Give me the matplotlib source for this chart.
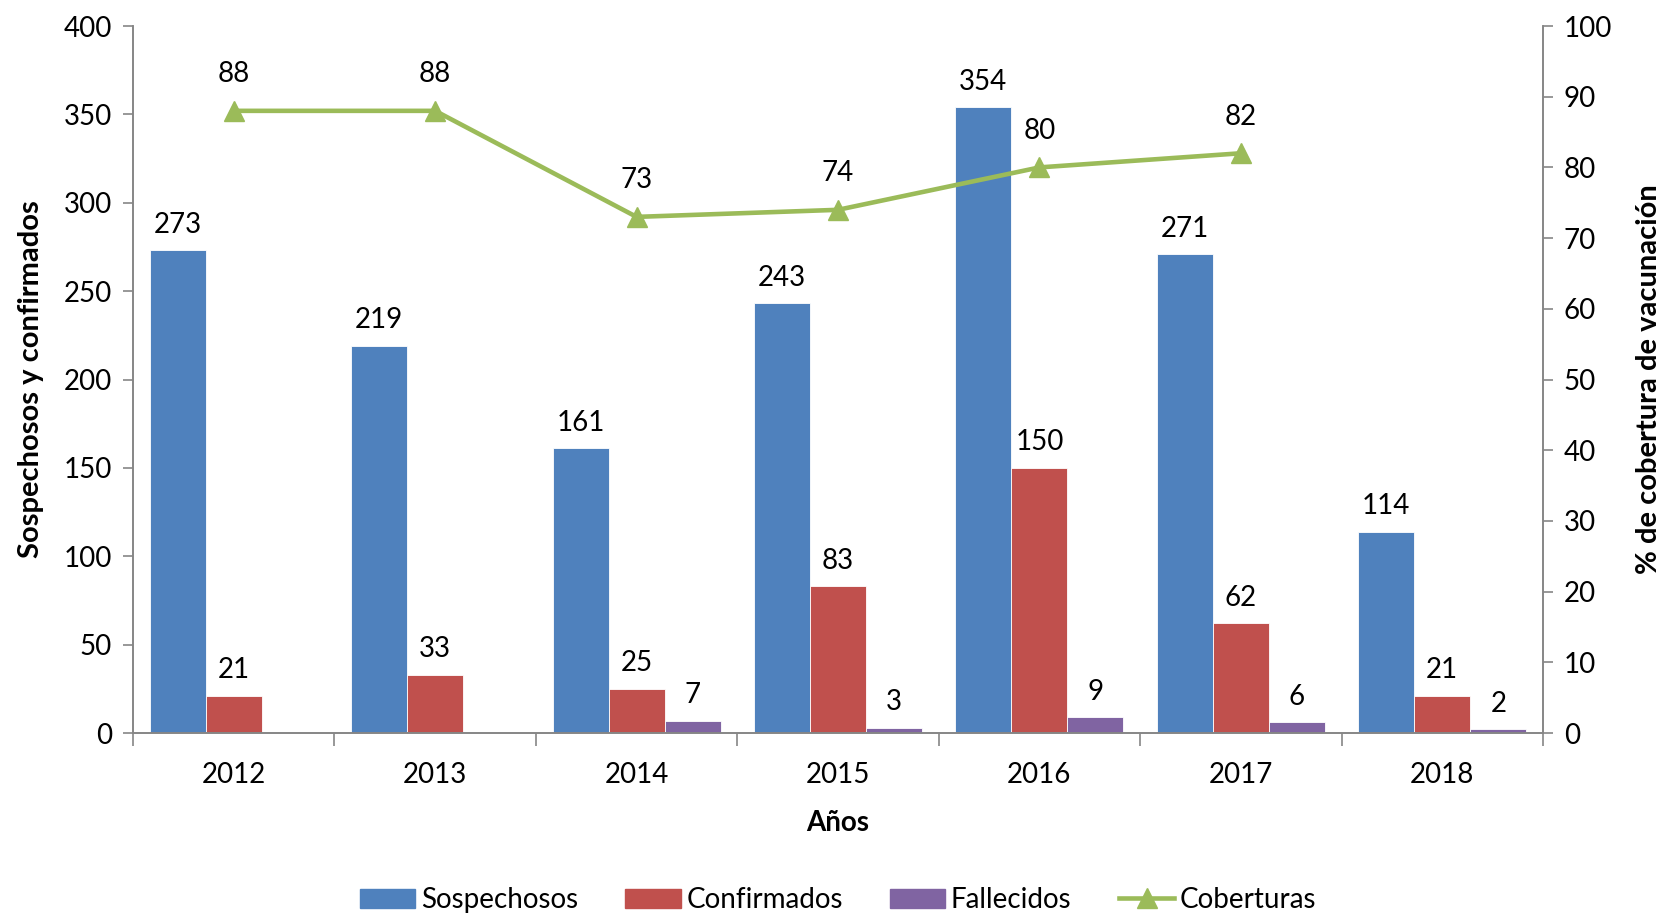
import matplotlib.pyplot as plt
from matplotlib.lines import Line2D
from matplotlib.patches import Patch
import numpy as np

plt.rcParams['font.family'] = ['Lato', 'DejaVu Sans']

# Data
years = ['2012', '2013', '2014', '2015', '2016', '2017', '2018']
sospechosos = [273, 219, 161, 243, 354, 271, 114]
confirmados = [21, 33, 25, 83, 150, 62, 21]
fallecidos = [None, None, 7, 3, 9, 6, 2]
coberturas = [88, 88, 73, 74, 80, 82, None]

c_blue = '#4F81BD'
c_red = '#C0504D'
c_purple = '#8064A2'
c_green = '#9BBB59'
c_axis = '#868686'

fig = plt.figure(figsize=(16.65, 9.17), dpi=100)
ax = fig.add_axes([133 / 1665, 1 - 733 / 917, (1543 - 133) / 1665, (733 - 26) / 917])
ax2 = ax.twinx()

x = np.arange(len(years))
w = 0.278
fs = 20

def draw_bars(offset, vals, color):
    for xi, v in zip(x, vals):
        if v is None:
            continue
        ax.bar(xi + offset, v, w, color=color, edgecolor='white', linewidth=0.6, zorder=2)
        ax.annotate(str(v), (xi + offset, v), xytext=(0, 9), textcoords='offset points',
                    ha='center', va='bottom', fontsize=fs)

draw_bars(-w, sospechosos, c_blue)
draw_bars(0, confirmados, c_red)
draw_bars(w, fallecidos, c_purple)

# coverage line on the secondary axis
lx = [xi for xi, v in zip(x, coberturas) if v is not None]
ly = [v for v in coberturas if v is not None]
ax2.plot(lx, ly, color=c_green, linewidth=3.3, marker='^', markersize=14, zorder=3)
for xi, v in zip(lx, ly):
    ax2.annotate(str(v), (xi, v), xytext=(0, 17), textcoords='offset points',
                 ha='center', va='bottom', fontsize=fs)

ax.set_xlim(-0.5, len(years) - 0.5)
ax.set_ylim(0, 400)
ax.set_yticks(range(0, 401, 50))
ax2.set_ylim(0, 100)
ax2.set_yticks(range(0, 101, 10))

ax.set_xticks(x)
ax.set_xticklabels(years, fontsize=fs)
ax.set_xticks(np.arange(-0.5, len(years), 1), minor=True)
ax.tick_params(axis='x', which='major', length=0, pad=21)
ax.tick_params(axis='x', which='minor', length=9, color=c_axis, width=1.2)
ax.tick_params(axis='y', labelsize=fs, length=7, color=c_axis, width=1.2, pad=8)
ax2.tick_params(axis='y', labelsize=fs, length=7, color=c_axis, width=1.2, pad=8)

for a in (ax, ax2):
    a.spines['top'].set_visible(False)
    for s in ('left', 'right', 'bottom'):
        a.spines[s].set_color(c_axis)
        a.spines[s].set_linewidth(1.2)

ax.set_xlabel('Años', fontsize=fs, fontweight='bold', labelpad=16)
ax.set_ylabel('Sospechosos y confirmados', fontsize=21, fontweight='bold', labelpad=14)
ax2.set_ylabel('% de cobertura de vacunación', fontsize=21, fontweight='bold', labelpad=17)

handles = [Patch(color=c_blue), Patch(color=c_red), Patch(color=c_purple),
           Line2D([0], [0], color=c_green, linewidth=3.3, marker='^', markersize=14)]
labels = ['Sospechosos', 'Confirmados', 'Fallecidos', 'Coberturas']
fig.legend(handles, labels, loc='center', bbox_to_anchor=(838 / 1665, 1 - 900 / 917),
           ncol=4, frameon=False, fontsize=20, handlelength=2.0, handletextpad=0.2,
           columnspacing=1.7)

fig.savefig('out.png', dpi=100)
